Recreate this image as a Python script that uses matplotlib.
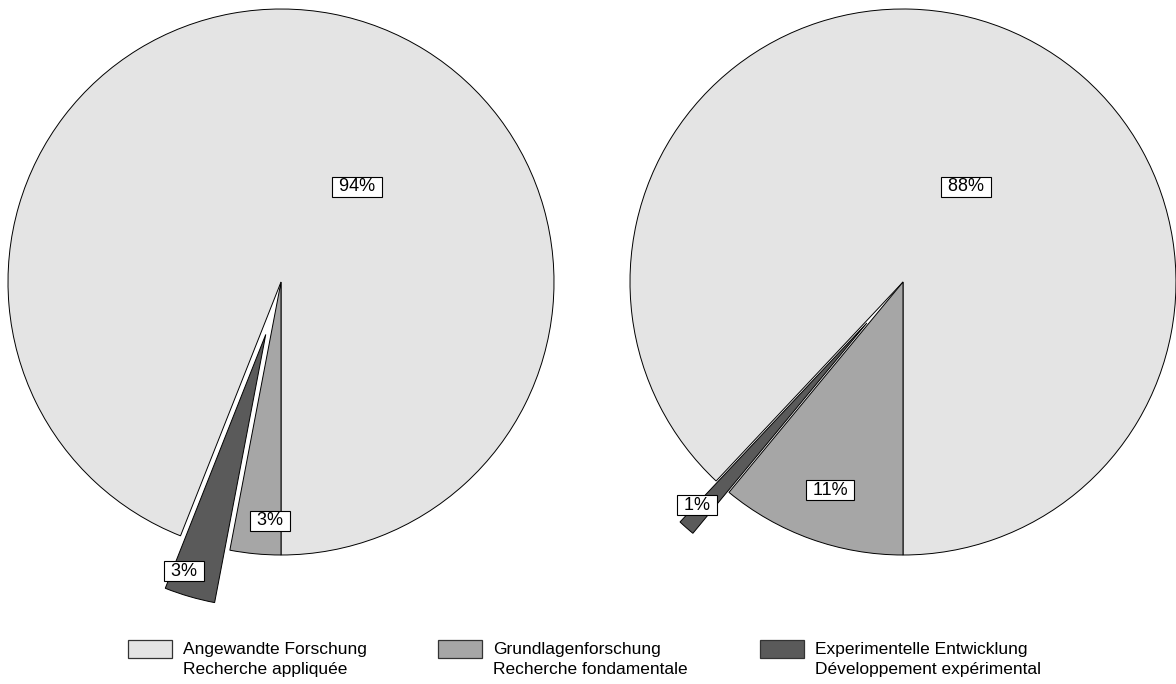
"""Two pie charts: share of research type, with boxed percentage labels."""

import matplotlib

matplotlib.use("Agg")
import matplotlib.pyplot as plt
from matplotlib.patches import Rectangle

# ==================== Data ====================
CATEGORIES = [
    "Angewandte Forschung\nRecherche appliquée",
    "Grundlagenforschung\nRecherche fondamentale",
    "Experimentelle Entwicklung\nDéveloppement expérimental",
]
LEFT_VALUES = [94, 3, 3]
RIGHT_VALUES = [88, 11, 1]
LEFT_LABELS = ["94%", "3%", "3%"]
RIGHT_LABELS = ["88%", "11%", "1%"]
# ===============================================

COLORS = ["#e4e4e4", "#a6a6a6", "#5a5a5a"]
DRAW_ORDER = [0, 2, 1]  # counter-clockwise from the bottom
EXPLODE = [0.0, 0.0, 0.2]
FONT = "Liberation Sans"

# label centres, in pie radii from the centre
LEFT_LABEL_POS = [(0.278, 0.348), (-0.04, -0.875), (-0.355, -1.059)]
RIGHT_LABEL_POS = [(0.231, 0.348), (-0.267, -0.762), (-0.755, -0.817)]

W, H = 1176, 684
plt.rcParams["font.family"] = [FONT, "DejaVu Sans"]


def draw_pie(ax, values, labels, label_pos):
    vals = [values[i] for i in DRAW_ORDER]
    cols = [COLORS[i] for i in DRAW_ORDER]
    expl = [EXPLODE[i] for i in DRAW_ORDER]
    wedges, _ = ax.pie(
        vals,
        colors=cols,
        explode=expl,
        startangle=-90,
        counterclock=True,
        radius=1.0,
        wedgeprops={"edgecolor": "black", "linewidth": 0.7},
    )
    for w in wedges:
        w.set_clip_on(False)
    ax.set_xlim(-1, 1)
    ax.set_ylim(-1, 1)
    ax.set_aspect("equal")
    ax.axis("off")
    for text, (x, y) in zip(labels, label_pos):
        ax.text(
            x, y, " " + text + " ",
            ha="center", va="center", fontsize=13,
            bbox=dict(boxstyle="square,pad=0.1", facecolor="white",
                      edgecolor="black", linewidth=0.8),
            zorder=5,
        )


def main():
    fig = plt.figure(figsize=(W / 100, H / 100), dpi=100)
    fig.patch.set_facecolor("white")

    r = 546
    ax_left = fig.add_axes([8 / W, (H - 555) / H, r / W, r / H])
    ax_right = fig.add_axes([630 / W, (H - 555) / H, r / W, r / H])
    draw_pie(ax_left, LEFT_VALUES, LEFT_LABELS, LEFT_LABEL_POS)
    draw_pie(ax_right, RIGHT_VALUES, RIGHT_LABELS, RIGHT_LABEL_POS)

    # legend, drawn by hand: patch aligned with the first text line
    legend_x = [128, 438, 760]
    for x, label, color in zip(legend_x, CATEGORIES, COLORS):
        fig.patches.append(
            Rectangle((x / W, (H - 658) / H), 44 / W, 18 / H,
                      transform=fig.transFigure, facecolor=color,
                      edgecolor="#333333", linewidth=0.9)
        )
        fig.text((x + 55) / W, (H - 642) / H, label, ha="left", va="top",
                 fontsize=12.5, linespacing=1.4)

    fig.savefig("out.png", dpi=100)
    plt.close(fig)


if __name__ == "__main__":
    main()
